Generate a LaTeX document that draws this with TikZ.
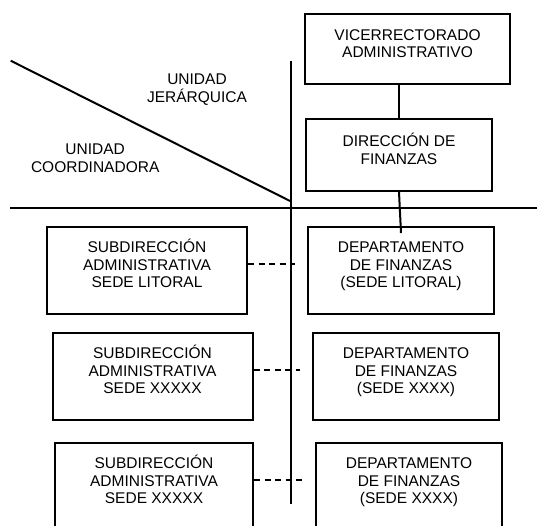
\documentclass[tikz,border=0pt]{standalone}
\usepackage{fontspec}
\setmainfont{Liberation Sans}
\usetikzlibrary{calc}

\begin{document}
\begin{tikzpicture}[x=1pt, y=-1pt,
    font=\fontsize{15.5}{17.3}\selectfont,
    unit/.style={draw, line width=2pt, align=center, inner sep=0pt},
    two/.style={unit, text height=29pt, text depth=12.4pt},
    three/.style={unit, text height=46pt, text depth=12.4pt,
                  minimum height=87pt, minimum width=186pt},
    zone/.style={align=center, inner sep=0pt, anchor=base},
    axis/.style={line width=2pt},
    link/.style={line width=2pt},
    dashline/.style={line width=2pt, dash pattern=on 6pt off 4.5pt}
]
\useasboundingbox (0,0) rectangle (537,525);
\clip (0,0) rectangle (537,525);

% Hierarchy column
\node[two, minimum width=205pt, minimum height=70pt] (vice) at (407.5,49)
    {VICERRECTORADO\\ADMINISTRATIVO};
\node[two, minimum width=186pt, minimum height=72pt, text height=30pt, text depth=12pt]
    (dir) at (399,155) {DIRECCIÓN DE\\FINANZAS};

% Left column: subdirecciones
\node[three, minimum width=200pt] (sub1) at (147,270.5)
    {SUBDIRECCIÓN\\ADMINISTRATIVA\\SEDE LITORAL};
\node[three, minimum width=200pt] (sub2) at (152.5,376.5)
    {SUBDIRECCIÓN\\ADMINISTRATIVA\\SEDE XXXXX};
\node[three, minimum width=198pt] (sub3) at (154,486.5)
    {SUBDIRECCIÓN\\ADMINISTRATIVA\\SEDE XXXXX};

% Right column: departamentos
\node[three] (dep1) at (401,270.5)
    {DEPARTAMENTO\\DE FINANZAS\\(SEDE LITORAL)};
\node[three] (dep2) at (406,376.5)
    {DEPARTAMENTO\\DE FINANZAS\\(SEDE XXXX)};
\node[three] (dep3) at (409,486.5)
    {DEPARTAMENTO\\DE FINANZAS\\(SEDE XXXX)};

% Zone labels
\node[zone] (jer) at (197,102.2) {UNIDAD\\JERÁRQUICA};
\node[zone] (coord) at (95.2,172.2) {UNIDAD\\COORDINADORA};

% Dividing lines
\coordinate (vtop) at (291,60.7);
\coordinate (vbot) at (291,504.3);
\coordinate (hleft) at (10.3,208);
\coordinate (hright) at (537,208);
\coordinate (dtop) at (10.7,60.7);
\coordinate (dbot) at (290,201);
\draw[axis] (vtop) -- (vbot);
\draw[axis] (hleft) -- (hright);
\draw[axis] (dtop) -- (dbot);

% Hierarchy links
\draw[link] (dir.north |- vice.south) -- (dir.north);
\draw[link] (dir.south) -- ($(dep1.north)+(0,7)$);

% Coordination links
\draw[dashline] ([yshift=6.5pt]sub1.east) -- ($([yshift=6.5pt]sub1.east -| dep1.west)+(-12,0)$);
\draw[dashline] ([yshift=6.5pt]sub2.east) -- ($([yshift=6.5pt]sub2.east -| dep2.west)+(-12,0)$);
\draw[dashline] ([yshift=6.5pt]sub3.east) -- ($([yshift=6.5pt]sub3.east -| dep3.west)+(-12,0)$);

\end{tikzpicture}
\end{document}
